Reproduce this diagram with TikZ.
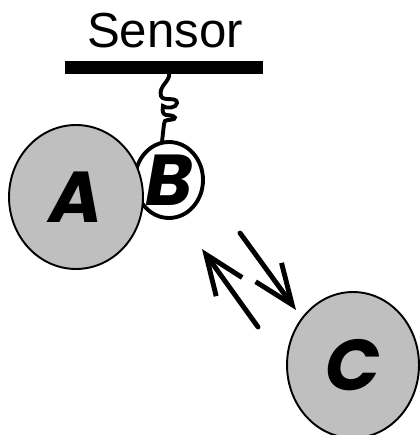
\documentclass[tikz,border=0pt]{standalone}
\usepackage{fontspec}
\usepackage{xcolor}
\usetikzlibrary{arrows.meta,shapes.geometric}
\newfontfamily\labelfont{Liberation Sans}
\newfontfamily\blobfont{Poppins}

\begin{document}
\begin{tikzpicture}[x=0.02cm, y=-0.02cm,
  blob/.style={ellipse, draw=black, line width=1.1pt, fill=gray!50, inner sep=0pt,
    font=\blobfont\bfseries\itshape\fontsize{41}{45}\selectfont},
  flow/.style={line width=2.8pt, line cap=round, -{Straight Barb[length=0.8cm, width=0.64cm, line width=2.8pt]}}]
  \useasboundingbox (0,0) rectangle (419,435);
  \node[font=\labelfont\fontsize{28}{32}\selectfont, inner sep=0pt] (sensor) at (165,31) {Sensor};
  \node[fill=black, minimum width=3.96cm, minimum height=0.26cm, inner sep=0pt] (bar) at (164,67.5) {};
  \node[blob, fill=white, line width=2.2pt, minimum width=1.36cm, minimum height=1.52cm] (B) at (169,180) {B};
  % coiled tether
  \draw[line width=2.2pt, line cap=round] (169,73) .. controls (171,81) and (158,86) .. (161,96)
    .. controls (163,102) and (177,96) .. (177,103)
    .. controls (177,108) and (166,109) .. (163,106)
    .. controls (162,112) and (163,114) .. (166,115)
    .. controls (172,115) and (177,117) .. (174,119)
    .. controls (170,121) and (164,118) .. (164,124) -- (B.100);
  \node[blob, minimum width=2.68cm, minimum height=2.88cm] (A) at (76,197) {A};
  \node[blob, minimum width=2.64cm, minimum height=2.92cm] (C) at (353,365) {C};
  \coordinate (back1) at (258,327);
  \coordinate (tip1) at (202,249);
  \coordinate (back2) at (240,233);
  \coordinate (tip2) at (296,310);
  \draw[flow] (back1) -- (tip1);
  \draw[flow] (back2) -- (tip2);
\end{tikzpicture}
\end{document}
